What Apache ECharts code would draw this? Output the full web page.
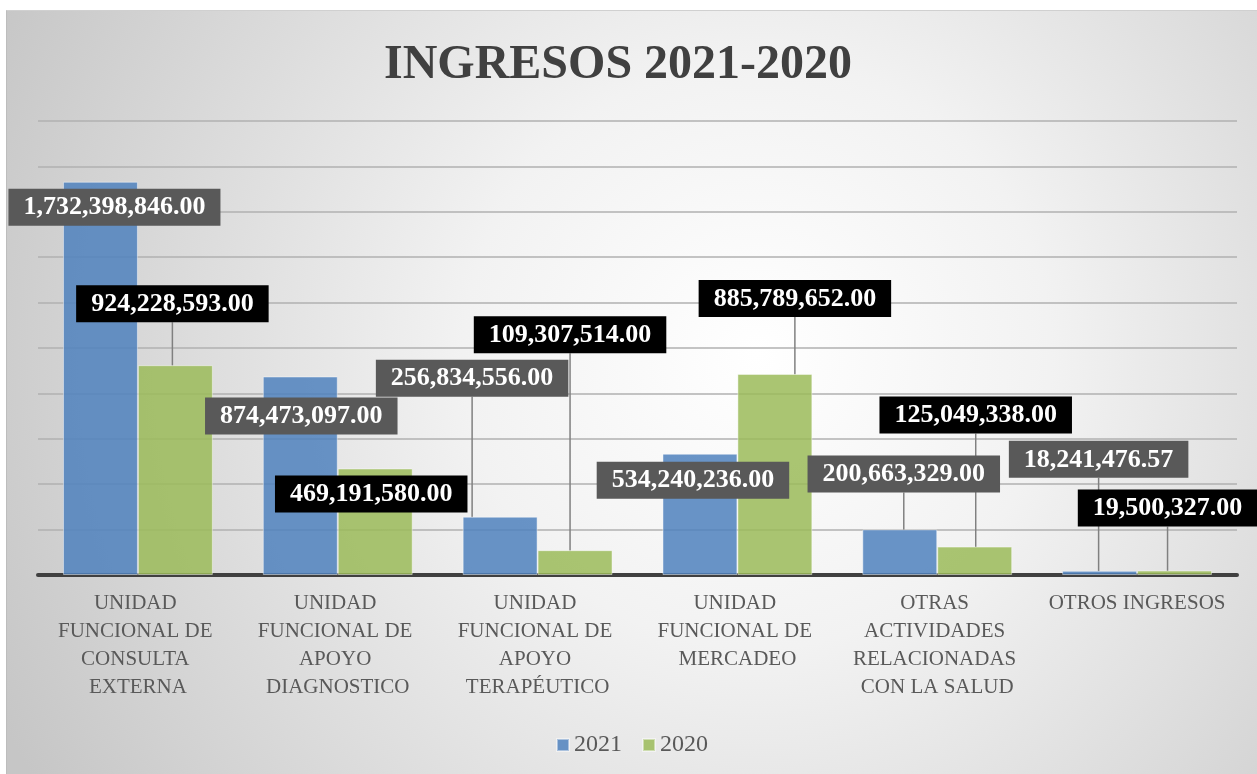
<!DOCTYPE html>
<html>
<head>
<meta charset="utf-8">
<title>INGRESOS 2021-2020</title>
<script src="https://cdn.jsdelivr.net/npm/echarts@6/dist/echarts.min.js"></script>
<style>
  html, body { margin: 0; padding: 0; background: #ffffff; }
  #chart {
    position: absolute;
    left: 6px;
    top: 10px;
    width: 1251px;
    height: 764px;
    border-left: 1px solid #bdbdbd;
    border-top: 1px solid #d0d0d0;
    box-sizing: border-box;
  }
</style>
</head>
<body>
<div id="chart"></div>
<script>
// datos del gráfico
const categories = [
  'UNIDAD FUNCIONAL DE CONSULTA EXTERNA',
  'UNIDAD FUNCIONAL DE APOYO DIAGNOSTICO',
  'UNIDAD FUNCIONAL DE APOYO TERAPÉUTICO',
  'UNIDAD FUNCIONAL DE MERCADEO',
  'OTRAS ACTIVIDADES RELACIONADAS CON LA SALUD',
  'OTROS INGRESOS'
];
const values2021 = [1732398846.00, 874473097.00, 256834556.00, 534240236.00, 200663329.00, 18241476.57];
const values2020 = [924228593.00, 469191580.00, 109307514.00, 885789652.00, 125049338.00, 19500327.00];
const seriesNames = ['2021', '2020'];

// desplazamiento de las etiquetas (px) respecto a la posición 'top'
const labelShift2021 = [[14, 44], [1, 58], [-28, -120], [-7, 45], [4, -37], [-1, -93]];
const labelShift2020 = [[-3, -43], [-4, 44], [-5, -197], [20, -57], [1, -113], [-7, -44]];

const serif = '"Liberation Serif", "DejaVu Serif", serif';

const fmt = v => v.toLocaleString('en-US', { minimumFractionDigits: 2, maximumFractionDigits: 2 });

const chart = echarts.init(document.getElementById('chart'));

const makeSeries = (name, data, color, labelBg, shifts) => ({
  name: name,
  type: 'bar',
  data: data,
  barGap: '0%',
  barCategoryGap: '25%',
  itemStyle: {
    color: color,
    borderColor: 'rgba(255,255,255,0.45)',
    borderWidth: 1
  },
  label: {
    show: true,
    position: 'top',
    distance: 0,
    formatter: p => fmt(p.value),
    color: '#ffffff',
    fontFamily: serif,
    fontWeight: 'bold',
    fontSize: 26,
    lineHeight: 26,
    backgroundColor: labelBg,
    padding: [6, 15, 5, 15]
  },
  labelLine: {
    show: true,
    lineStyle: { color: '#808080', width: 1.5 }
  },
  labelLayout: p => ({ dx: shifts[p.dataIndex][0], dy: shifts[p.dataIndex][1] })
});

const option = {
  backgroundColor: {
    type: 'radial',
    x: 0.6, y: 0.45, r: 1.1,
    colorStops: [
      { offset: 0, color: '#ffffff' },
      { offset: 0.35, color: '#f2f2f2' },
      { offset: 1, color: '#c6c6c6' }
    ]
  },
  animation: false,
  title: {
    text: 'INGRESOS 2021-2020',
    left: 372,
    top: 26,
    textStyle: {
      fontFamily: serif,
      fontWeight: 'bold',
      fontSize: 48,
      color: '#404040'
    }
  },
  legend: {
    data: seriesNames,
    top: 717,
    left: 'center',
    icon: 'rect',
    itemWidth: 12,
    itemHeight: 12,
    itemGap: 20,
    textStyle: { fontFamily: serif, fontSize: 24, color: '#595959' }
  },
  grid: {
    left: 31,
    right: 20,
    top: 110,
    bottom: 199
  },
  xAxis: {
    type: 'category',
    data: categories,
    axisTick: { show: false },
    axisLine: { lineStyle: { color: '#404040', width: 4 } },
    axisLabel: {
      interval: 0,
      margin: 14,
      color: '#595959',
      fontFamily: serif,
      fontSize: 21,
      lineHeight: 28,
      width: 185,
      overflow: 'break',
      align: 'center'
    }
  },
  yAxis: {
    type: 'value',
    min: 0,
    max: 2000000000,
    interval: 200000000,
    axisLabel: { show: false },
    axisLine: { show: false },
    axisTick: { show: false },
    splitLine: { lineStyle: { color: '#b0b0b0', width: 1.5 } }
  },
  series: [
    makeSeries(seriesNames[0], values2021, 'rgba(79,129,189,0.85)', '#595959', labelShift2021),
    makeSeries(seriesNames[1], values2020, 'rgba(155,187,89,0.85)', '#000000', labelShift2020)
  ]
};

chart.setOption(option);
</script>
</body>
</html>
